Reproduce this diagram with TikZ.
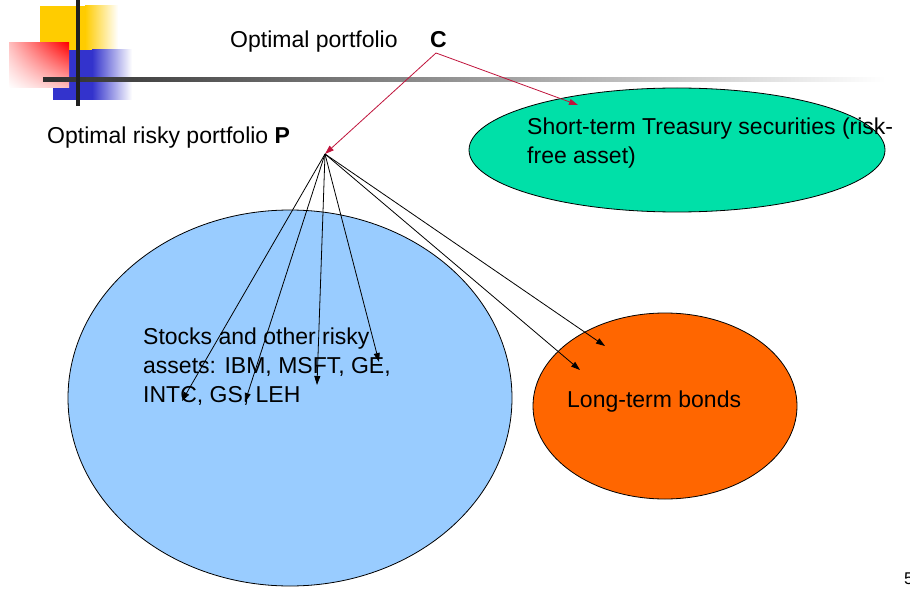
\documentclass[tikz,border=0pt]{standalone}
\usepackage{fontspec}
\setmainfont{Liberation Sans}
\usetikzlibrary{arrows.meta,shapes.geometric,shadings}
\definecolor{greenfill}{RGB}{0,224,168}
\definecolor{bluefill}{RGB}{153,204,255}
\definecolor{orangefill}{RGB}{255,102,0}
\definecolor{redarrow}{RGB}{192,20,60}
\definecolor{decoyellow}{RGB}{255,204,0}
\definecolor{decoblue}{RGB}{51,51,204}
\begin{document}
\begin{tikzpicture}[x=1pt,y=-1pt,
  txt/.style={inner sep=0pt, anchor=base west, font=\fontsize{23}{29}\selectfont, align=left},
  blob/.style={ellipse, draw=black, line width=0.8pt, inner sep=0pt},
  conn/.style={line width=0.8pt, -{Triangle[length=9pt,width=6pt]}},
]
\useasboundingbox (0,0) rectangle (910,604);
\fill[white] (0,0) rectangle (910,604);
% decoration
\fill[decoyellow] (40,6) rectangle (85,50);
\shade[left color=decoyellow, right color=white] (85,6) rectangle (118,50);
\fill[decoblue] (53,50) rectangle (92,100);
\shade[left color=decoblue, right color=white] (92,50) rectangle (132,100);
\shade[upper right=red, upper left=red!25, lower right=red!25, lower left=white] (9,43) rectangle (69,88);
\shade[left color=black!82, right color=white] (43,78) rectangle (885,82);
\fill[black!88] (76,0) rectangle (80,106);

% shapes
\node[blob, fill=bluefill, minimum width=444pt, minimum height=376pt] (stocks) at (290,398) {};
\node[blob, fill=greenfill, minimum width=416pt, minimum height=124pt] (tbill) at (677,150) {};
\node[blob, fill=orangefill, minimum width=264pt, minimum height=186pt] (bonds) at (665,406) {};

% texts
\node[txt] (optlabel) at (230,48) {Optimal portfolio};
\node[txt] (C) at (430,48) {\textbf{C}};
\node[txt] (plabel) at (47,144) {Optimal risky portfolio \textbf{P}};
\node[txt] (tbilltext) at (527,164) {Short-term Treasury securities (risk-\\free asset)};
\node[txt] (stockstext) at (143,402) {Stocks and other risky\\assets: IBM, MSFT, GE,\\INTC, GS, LEH};
\node[txt] (bondstext) at (567,407) {Long-term bonds};
\node[anchor=base west, inner sep=0pt, font=\fontsize{17}{20}\selectfont] (pagenum) at (904,584) {5};

% connector points
\coordinate (Cpt) at (436,53);
\coordinate (Ppt) at (325,154);
\coordinate (tend) at (578,105);
\coordinate (a1) at (182,401);
\coordinate (a2) at (245,402);
\coordinate (a3) at (317,385);
\coordinate (a4) at (379,362);
\coordinate (a5) at (605,346);
\coordinate (a6) at (580,370);

\draw[conn, redarrow] (Cpt) -- (Ppt);
\draw[conn, redarrow] (Cpt) -- (tend);
\foreach \t in {a1,a2,a3,a4,a5,a6}
  \draw[conn, black] (Ppt) -- (\t);
\end{tikzpicture}
\end{document}
